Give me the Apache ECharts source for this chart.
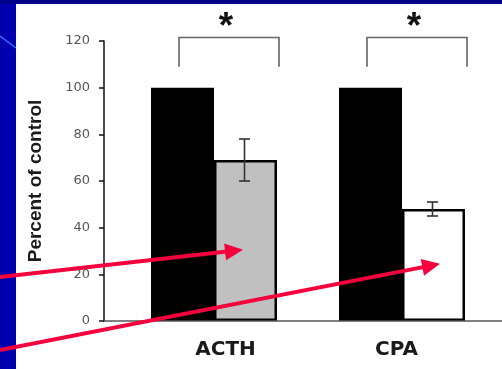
<!DOCTYPE html>
<html><head><meta charset="utf-8">
<script src="https://cdn.jsdelivr.net/npm/echarts@6/dist/echarts.min.js"></script>
<style>
html,body{margin:0;padding:0;width:502px;height:369px;overflow:hidden;background:#0000b0;}
#topband{position:absolute;left:0;top:0;width:502px;height:4px;background:#000088;}
#panel{position:absolute;left:16px;top:4px;right:0;bottom:0;background:#fff;}
#chart{position:absolute;left:0;top:0;width:502px;height:369px;}
</style></head><body>
<div id="topband"></div><div id="panel"></div><div id="chart"></div>
<script>
// ---- data ----
const categories = ['ACTH', 'CPA'];
const controlValues = [100, 100];
const treatmentValues = [69, 48];
const treatmentErrors = [9, 3];
const treatmentColors = ['#c0c0c0', '#ffffff'];
const significanceMarks = ['*', '*'];
const yAxisTitle = 'Percent of control';
const yMin = 0, yMax = 120, yStep = 20;

// ---- style constants ----
const BAR_W = 63;
const CAP_W = 11;
const RED = '#f5003d';
const BRACKET_TOP = 121.5, BRACKET_LEG = 109;

const chart = echarts.init(document.getElementById('chart'), null, {renderer: 'canvas'});

const option = {
  animation: false,
  backgroundColor: 'transparent',
  grid: {left: 120, right: 6, top: 41, bottom: 48, containLabel: false},
  xAxis: {
    type: 'category',
    data: categories,
    axisLine: {show: false},
    axisTick: {show: false},
    axisLabel: {
      margin: 19,
      formatter: (v, i) => (i === 0 ? '{a|' + v + '}' : '{b|' + v + '}'),
      rich: {
        a: {fontFamily: 'DejaVu Sans', fontWeight: 'bold', fontSize: 20, color: '#1a1a1a', padding: [0, 0, 0, 23]},
        b: {fontFamily: 'DejaVu Sans', fontWeight: 'bold', fontSize: 20, color: '#1a1a1a', padding: [0, 11, 0, 0]}
      }
    },
    splitLine: {show: false}
  },
  yAxis: {
    type: 'value',
    min: yMin, max: yMax, interval: yStep,
    offset: 16,
    name: yAxisTitle,
    nameLocation: 'middle',
    nameRotate: 90,
    nameGap: 59,
    nameTextStyle: {fontFamily: 'Liberation Sans', fontWeight: 'bold', fontSize: 19, color: '#1a1a1a'},
    axisLine: {show: true, lineStyle: {color: '#111', width: 1.5}},
    axisTick: {show: true, length: 5, lineStyle: {color: '#111', width: 1.5}},
    axisLabel: {margin: 14, fontFamily: 'DejaVu Sans', fontSize: 13, color: '#555'},
    splitLine: {show: false}
  },
  series: [
    {
      type: 'bar', name: 'Control', data: controlValues,
      barWidth: BAR_W, barGap: '0%',
      itemStyle: {color: '#000'}
    },
    {
      type: 'bar', name: 'Treatment',
      data: treatmentValues.map((v, i) => ({value: v, itemStyle: {color: treatmentColors[i]}})),
      barWidth: BAR_W, barGap: '0%',
      itemStyle: {borderColor: '#000', borderWidth: 2.5}
    },
    {
      type: 'custom', name: 'SEM', z: 5,
      data: categories.map((c, i) => [i, treatmentValues[i], treatmentErrors[i]]),
      renderItem: (params, api) => {
        const i = api.value(0), m = api.value(1), e = api.value(2);
        const x = api.coord([i, m])[0] + BAR_W / 2 - 1;
        const yt = api.coord([i, m + e])[1], yb = api.coord([i, m - e])[1];
        const h = CAP_W / 2;
        const st = {stroke: '#333', lineWidth: 1.6};
        return {type: 'group', children: [
          {type: 'line', shape: {x1: x, y1: yt, x2: x, y2: yb}, style: st},
          {type: 'line', shape: {x1: x - h, y1: yt, x2: x + h, y2: yt}, style: st},
          {type: 'line', shape: {x1: x - h, y1: yb, x2: x + h, y2: yb}, style: st}
        ]};
      }
    },
    {
      type: 'custom', name: 'Significance', z: 5, clip: false,
      data: categories.map((c, i) => [i, significanceMarks[i]]),
      renderItem: (params, api) => {
        const i = api.value(0);
        const cx = api.coord([i, 0])[0];
        const yTop = api.coord([i, BRACKET_TOP])[1];
        const yLeg = api.coord([i, BRACKET_LEG])[1];
        const xl = cx - 35, xr = cx + 65;
        return {type: 'group', children: [
          {type: 'polyline', shape: {points: [[xl, yLeg], [xl, yTop], [xr, yTop], [xr, yLeg]]},
            style: {stroke: '#666', lineWidth: 1.6, fill: null}},
          {type: 'text', x: cx + 12, y: yTop - 10,
            style: {text: significanceMarks[i], fontFamily: 'Liberation Sans', fontWeight: 'bold',
              fontSize: 37, fill: '#111', align: 'center', verticalAlign: 'middle'}}
        ]};
      }
    }
  ]
};
chart.setOption(option);

// ---- annotations (axis line, decoration, arrows) ----
const arrowTargets = [
  {cat: 0, value: 30.5, dx: 29, startY: 277},
  {cat: 1, value: 24.5, dx: 38, startY: 350}
];
function arrow(x0, y0, x1, y1) {
  const dx = x1 - x0, dy = y1 - y0, L = Math.hypot(dx, dy), ux = dx / L, uy = dy / L;
  const hl = 18, hw = 8.5;
  const bx = x1 - ux * hl, by = y1 - uy * hl;
  return [
    {type: 'line', z: 100, shape: {x1: x0, y1: y0, x2: bx + ux * 2, y2: by + uy * 2},
      style: {stroke: RED, lineWidth: 4}},
    {type: 'polygon', z: 100, shape: {points: [[x1, y1], [bx - uy * hw, by + ux * hw], [bx + uy * hw, by - ux * hw]]},
      style: {fill: RED}}
  ];
}
const zeroPt = chart.convertToPixel({gridIndex: 0}, [0, 0]);
const yAxisX = 104;
const graphics = [
  {type: 'line', z: 1, shape: {x1: 0, y1: 36, x2: 16, y2: 48}, style: {stroke: '#3a6cff', lineWidth: 1.5}},
  {type: 'line', z: 3, shape: {x1: yAxisX, y1: zeroPt[1], x2: 502, y2: zeroPt[1]}, style: {stroke: '#555', lineWidth: 1.5}}
];
arrowTargets.forEach(a => {
  const p = chart.convertToPixel({gridIndex: 0}, [a.cat, a.value]);
  graphics.push(...arrow(0, a.startY, p[0] + a.dx, p[1]));
});
chart.setOption({graphic: graphics});
</script>
</body></html>
